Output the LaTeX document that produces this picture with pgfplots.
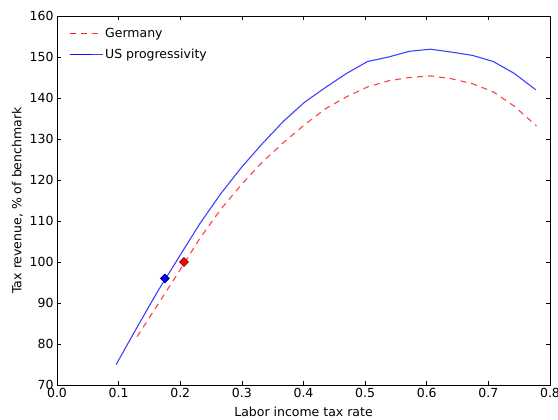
\documentclass[border=0pt]{standalone}
\usepackage{fontspec}
\setmainfont{DejaVu Sans}
\usepackage{pgfplots}
\pgfplotsset{compat=1.18}
\begin{document}
\begin{tikzpicture}
\path[use as bounding box] (-57pt,-35pt) rectangle (501pt,385pt);
\begin{axis}[
  at={(0pt,0pt)}, anchor=south west,
  scale only axis, width=493pt, height=369pt,
  xmin=0, xmax=0.8, ymin=70, ymax=160,
  xtick={0,0.1,...,0.8}, ytick={70,80,...,160},
  xticklabel style={/pgf/number format/.cd, fixed, fixed zerofill, precision=1},
  /pgf/number format/assume math mode=true,
  tick label style={font=\fontsize{12.5}{15}\selectfont},
  label style={font=\fontsize{12.5}{15}\selectfont},
  xlabel={Labor income tax rate},
  xlabel style={yshift=-2pt},
  ylabel={Tax revenue, \% of benchmark},
  major tick length=4pt,
  tick style={black, line width=0.6pt},
  axis line style={black, line width=0.8pt},
  legend style={draw=none, fill=none, at={(0.018,0.978)}, anchor=north west,
    font=\fontsize{12.5}{15}\selectfont, row sep=6pt},
  legend cell align=left,
  legend image code/.code={\draw[#1] (0pt,0pt) -- (22pt,0pt); \path (0pt,0pt) -- (33pt,0pt);},
]
\addplot[red, draw opacity=0.75, line width=1.1pt, dash pattern=on 6pt off 5pt] coordinates {
(0.130,81.8) (0.164,89.7) (0.198,97.7) (0.232,105.8) (0.266,112.9)
(0.300,119.0) (0.334,124.5) (0.368,129.2) (0.402,133.5) (0.436,137.4)
(0.470,140.3) (0.504,142.7) (0.538,144.2) (0.572,145.0) (0.606,145.4)
(0.640,144.7) (0.674,143.5) (0.708,141.5) (0.742,138.0) (0.778,133.2)
};
\addlegendentry{Germany}
\addplot[blue, draw opacity=0.75, line width=1.1pt] coordinates {
(0.096,75.0) (0.130,84.1) (0.164,93.0) (0.198,101.2) (0.232,109.4)
(0.266,116.7) (0.300,123.2) (0.334,129.0) (0.368,134.4) (0.402,139.0)
(0.436,142.6) (0.470,146.0) (0.504,148.9) (0.538,150.0) (0.572,151.4)
(0.606,151.9) (0.640,151.2) (0.674,150.4) (0.708,148.9) (0.742,146.0)
(0.777,142.0)
};
\addlegendentry{US progressivity}
\addplot[only marks, mark=square*, mark size=3.2pt, mark options={rotate=45, fill=blue, draw=black!70!blue, line width=0.5pt}, forget plot] coordinates {(0.175,96.0)};
\addplot[only marks, mark=square*, mark size=3.2pt, mark options={rotate=45, fill=red, draw=black!60!red, line width=0.5pt}, forget plot] coordinates {(0.206,100.0)};
\end{axis}
\end{tikzpicture}
\end{document}
